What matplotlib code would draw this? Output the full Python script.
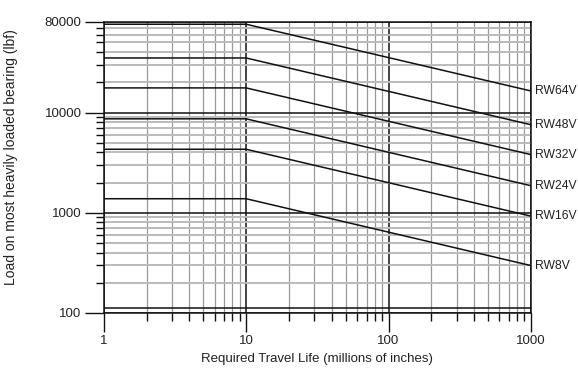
import matplotlib
matplotlib.use('Agg')
import matplotlib.pyplot as plt
from matplotlib.ticker import FixedLocator, NullFormatter, LogLocator

plt.rcParams['font.family'] = ['Liberation Sans', 'DejaVu Sans']

# travel life points (millions of inches)
life = [1, 10, 1000]

# load curves (lbf)
models = ['RW64V', 'RW48V', 'RW32V', 'RW24V', 'RW16V', 'RW8V']
loads = {
    'RW64V': [76000, 76000, 16400],
    'RW48V': [35000, 35000, 7550],
    'RW32V': [17600, 17600, 3800],
    'RW24V': [8650, 8650, 1860],
    'RW16V': [4300, 4300, 925],
    'RW8V': [1380, 1380, 297],
}

xticks = [1, 10, 100, 1000]
xtick_labels = ['1', '10', '100', '1000']
yticks = [100, 1000, 10000, 80000]
ytick_labels = ['100', '1000', '10000', '80000']
extra_line = 113

fig = plt.figure(figsize=(5.78, 3.69), dpi=100)
ax = fig.add_axes([0.1794, 0.1518, 0.7393, 0.7886])
ax.set_xscale('log')
ax.set_yscale('log')
ax.set_xlim(1, 1000)
ax.set_ylim(100, 80000)

# grid
ax.yaxis.set_minor_locator(LogLocator(base=10, subs=range(2, 10)))
ax.xaxis.set_minor_locator(LogLocator(base=10, subs=range(2, 10)))
ax.grid(True, which='minor', axis='x', color='#999999', lw=0.9)
ax.grid(True, which='minor', axis='y', color='#bbbbbb', lw=1.4)
ax.grid(True, which='major', color='#111111', lw=1.1)
ax.axhline(extra_line, color='#111111', lw=1.1)

for m in models:
    ax.plot(life, loads[m], color='#111111', lw=1.1)
    ax.annotate(m, xy=(life[-1], loads[m][-1]), xytext=(3, 0),
                textcoords='offset points', va='center', ha='left',
                fontsize=8.7, color='#222222', annotation_clip=False)

ax.xaxis.set_major_locator(FixedLocator(xticks))
ax.set_xticklabels(xtick_labels)
ax.yaxis.set_major_locator(FixedLocator(yticks))
ax.set_yticklabels(ytick_labels)
ax.xaxis.set_minor_formatter(NullFormatter())
ax.yaxis.set_minor_formatter(NullFormatter())

ax.tick_params(which='major', length=14, width=1, color='#111111',
               labelsize=9.5, labelcolor='#222222', pad=2)
ax.tick_params(which='minor', length=6, width=1, color='#111111')

for s in ax.spines.values():
    s.set_color('#111111')
    s.set_linewidth(1.1)

ax.set_xlabel('Required Travel Life (millions of inches)', fontsize=9.5,
              color='#222222', labelpad=4)
ax.set_ylabel('Load on most heavily loaded bearing (lbf)', fontsize=10,
              color='#222222')
ax.yaxis.set_label_coords(-0.2, 0.535)

fig.savefig('out.png', dpi=100)
